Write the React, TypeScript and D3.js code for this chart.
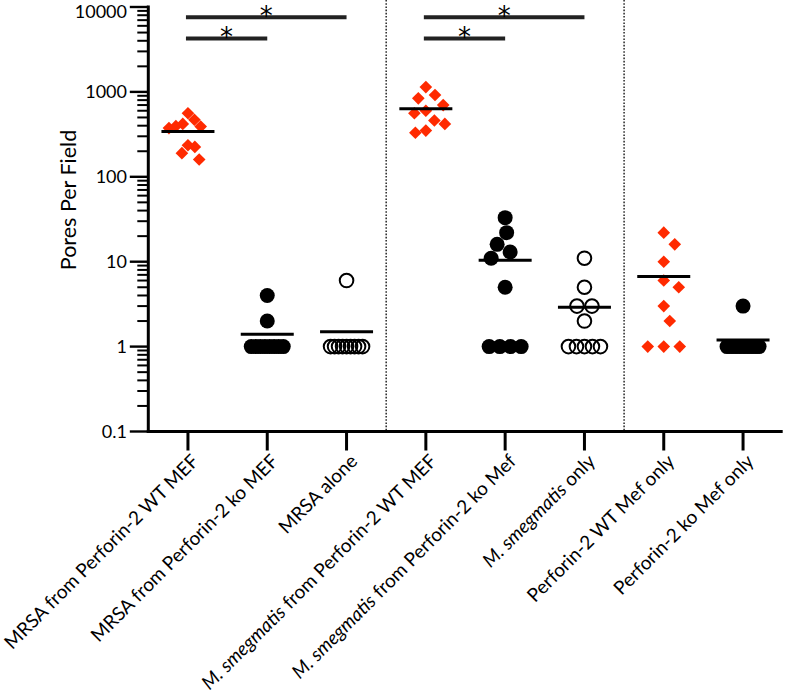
import React from 'react';
import * as d3 from 'd3';

const categories = [
  'MRSA from Perforin-2 WT MEF',
  'MRSA from Perforin-2 ko MEF',
  'MRSA alone',
  'M. smegmatis from Perforin-2 WT MEF',
  'M. smegmatis from Perforin-2 ko Mef',
  'M. smegmatis only',
  'Perforin-2 WT Mef only',
  'Perforin-2 ko Mef only',
];
const italicPrefix = 'M. smegmatis';

const mrsaWT = [560, 420, 390, 470, 375, 395, 225, 235, 190, 160];
const mrsaKO = [4, 2, 1, 1, 1, 1, 1, 1, 1, 1];
const mrsaAlone = [6, 1, 1, 1, 1, 1, 1, 1, 1, 1];
const smegWT = [1140, 920, 840, 700, 600, 560, 420, 460, 350, 330];
const smegKO = [33, 22, 16, 13, 11, 5, 1, 1, 1, 1];
const smegOnly = [11, 5, 3, 3, 2, 1, 1, 1, 1, 1];
const wtMefOnly = [22, 16, 10, 6, 5, 3, 2, 1, 1, 1];
const koMefOnly = [3, 1, 1, 1, 1, 1, 1, 1, 1, 1];
const seriesValues = [mrsaWT, mrsaKO, mrsaAlone, smegWT, smegKO, smegOnly, wtMefOnly, koMefOnly];
const markerKinds = ['diamond', 'dot', 'ring', 'diamond', 'dot', 'ring', 'diamond', 'dot'];

const yTickValues = [0.1, 1, 10, 100, 1000, 10000];
const yTickLabels = ['0.1', '1', '10', '100', '1000', '10000'];
const yTitle = 'Pores Per Field';

const comparisons: [number, number][] = [[0, 1], [0, 2], [3, 4], [3, 5]];
const comparisonLabels = ['*', '*', '*', '*'];
const separatorsAfter = [2, 5];

const RED = '#ff2a00';
const FONT = 'Lato, sans-serif';

function swarm(values: number[], ys: number[], D: number, tieSpan: number, maxHalf: number): number[] {
  const n = values.length;
  const offs: (number | null)[] = new Array(n).fill(null);
  const groups = d3.group(d3.range(n), (i) => values[i]);
  for (const [, idx] of groups) {
    if (idx.length > 1) {
      const step = Math.min(D, tieSpan / (idx.length - 1));
      idx.forEach((i, k) => (offs[i] = (k - (idx.length - 1) / 2) * step));
    }
  }
  const free = d3.range(n).filter((i) => offs[i] === null).sort((a, b) => values[b] - values[a]);
  for (const i of free) {
    for (let k = 0; k < 600; k++) {
      const cand = k === 0 ? 0 : (k % 2 ? 1 : -1) * Math.ceil(k / 2) * 0.5;
      let ok = true;
      for (let j = 0; j < n; j++) {
        if (j === i || offs[j] === null) continue;
        const dx = cand - (offs[j] as number);
        const dy = ys[i] - ys[j];
        if (dx * dx + dy * dy < D * D) { ok = false; break; }
      }
      if (ok) { offs[i] = cand; break; }
    }
  }
  const maxOff = d3.max(free, (i) => Math.abs(offs[i] as number)) ?? 0;
  if (maxOff > maxHalf) {
    const k = maxHalf / maxOff;
    for (const i of free) offs[i] = (offs[i] as number) * k;
  }
  return offs.map((o) => o ?? 0);
}

export default function App() {
  const W = 785, H = 699;
  const axisX = 148.3;
  const axisY = 431.5;
  const x = d3.scaleBand<string>().domain(categories).range([axisX, 782.7]).padding(0);
  const bw = x.bandwidth();
  const cx = (i: number) => (x(categories[i]) as number) + bw / 2;
  const y = d3.scaleLog().domain([0.1, 10000]).range([axisY, 7]);

  const minorTicks: number[] = [];
  for (let e = -1; e < 4; e++) for (let m = 2; m <= 9; m++) minorTicks.push(m * Math.pow(10, e));

  const diamondPath = d3.symbol().type(d3.symbolSquare).size(80)() as string;

  const barYs = [17.3, 38.6];

  return (
    <svg width={W} height={H} style={{ position: 'absolute', left: 0, top: 0, background: '#fff' }}
      fontFamily={FONT}>
      <rect x={0} y={0} width={W} height={H} fill="#fff" />
      {separatorsAfter.map((i) => {
        const sx = (x(categories[i]) as number) + bw;
        return <line key={'sep' + i} x1={sx} x2={sx} y1={0} y2={axisY} stroke="#333" strokeWidth={1.6} strokeDasharray="1.6,1.6" />;
      })}
      <line x1={axisX} x2={axisX} y1={y(10000) - 1.5} y2={axisY + 1.5} stroke="#000" strokeWidth={3} />
      {minorTicks.map((v) => (
        <line key={'mt' + v} x1={axisX - 11} x2={axisX} y1={y(v)} y2={y(v)} stroke="#000" strokeWidth={2} />
      ))}
      {yTickValues.map((v, i) => (
        <g key={'yt' + v}>
          <line x1={axisX - 18.5} x2={axisX} y1={y(v)} y2={y(v)} stroke="#000" strokeWidth={2.4} />
          <text x={127} y={Math.max(y(v) + 6.5, 18)} textAnchor="end" fontSize={18} fill="#000">{yTickLabels[i]}</text>
        </g>
      ))}
      <text transform={`translate(76,200) rotate(-90)`} textAnchor="middle" fontSize={21.5} fill="#000">{yTitle}</text>
      <line x1={axisX - 1.5} x2={782.7} y1={axisY} y2={axisY} stroke="#000" strokeWidth={3} />
      {categories.map((c, i) => {
        const tx = cx(i);
        const italic = c.startsWith(italicPrefix);
        return (
          <g key={'xt' + i}>
            <line x1={tx} x2={tx} y1={axisY} y2={axisY + 19} stroke="#000" strokeWidth={3} />
            <text transform={`translate(${tx + 12},${axisY + 31}) rotate(-45)`} textAnchor="end" fontSize={19} fill="#000">
              {italic ? (
                <>
                  <tspan fontStyle="italic">{italicPrefix}</tspan>
                  <tspan>{c.slice(italicPrefix.length)}</tspan>
                </>
              ) : c}
            </text>
          </g>
        );
      })}
      {seriesValues.map((vals, gi) => {
        const kind = markerKinds[gi];
        const ys = vals.map((v) => y(v));
        const D = kind === 'diamond' ? 16 : 15;
        const offs = swarm(vals, ys, D, 32, 19);
        const c0 = cx(gi);
        return (
          <g key={'g' + gi}>
            {vals.map((v, i) => {
              const px = c0 + offs[i];
              const py = ys[i];
              if (kind === 'diamond')
                return <path key={i} d={diamondPath} transform={`translate(${px},${py}) rotate(45)`} fill={RED} />;
              if (kind === 'dot')
                return <circle key={i} cx={px} cy={py} r={7.5} fill="#000" />;
              return <circle key={i} cx={px} cy={py} r={6.8} fill="none" stroke="#000" strokeWidth={2} />;
            })}
          </g>
        );
      })}
      {seriesValues.map((vals, gi) => {
        const m = d3.mean(vals) as number;
        const c0 = cx(gi);
        return <line key={'m' + gi} x1={c0 - 26.5} x2={c0 + 26.5} y1={y(m)} y2={y(m)} stroke="#000" strokeWidth={3} />;
      })}
      {comparisons.map(([a, b], k) => {
        const x1 = cx(a) - 2;
        const x2 = cx(b);
        const by = barYs[k % 2 === 0 ? 1 : 0];
        return (
          <g key={'cmp' + k}>
            <line x1={x1} x2={x2} y1={by} y2={by} stroke="#222" strokeWidth={4} />
            <text x={(x1 + x2) / 2} y={by + 7.5} textAnchor="middle" fontSize={26} fontFamily="DejaVu Sans, sans-serif" fill="#000">{comparisonLabels[k]}</text>
          </g>
        );
      })}
    </svg>
  );
}
